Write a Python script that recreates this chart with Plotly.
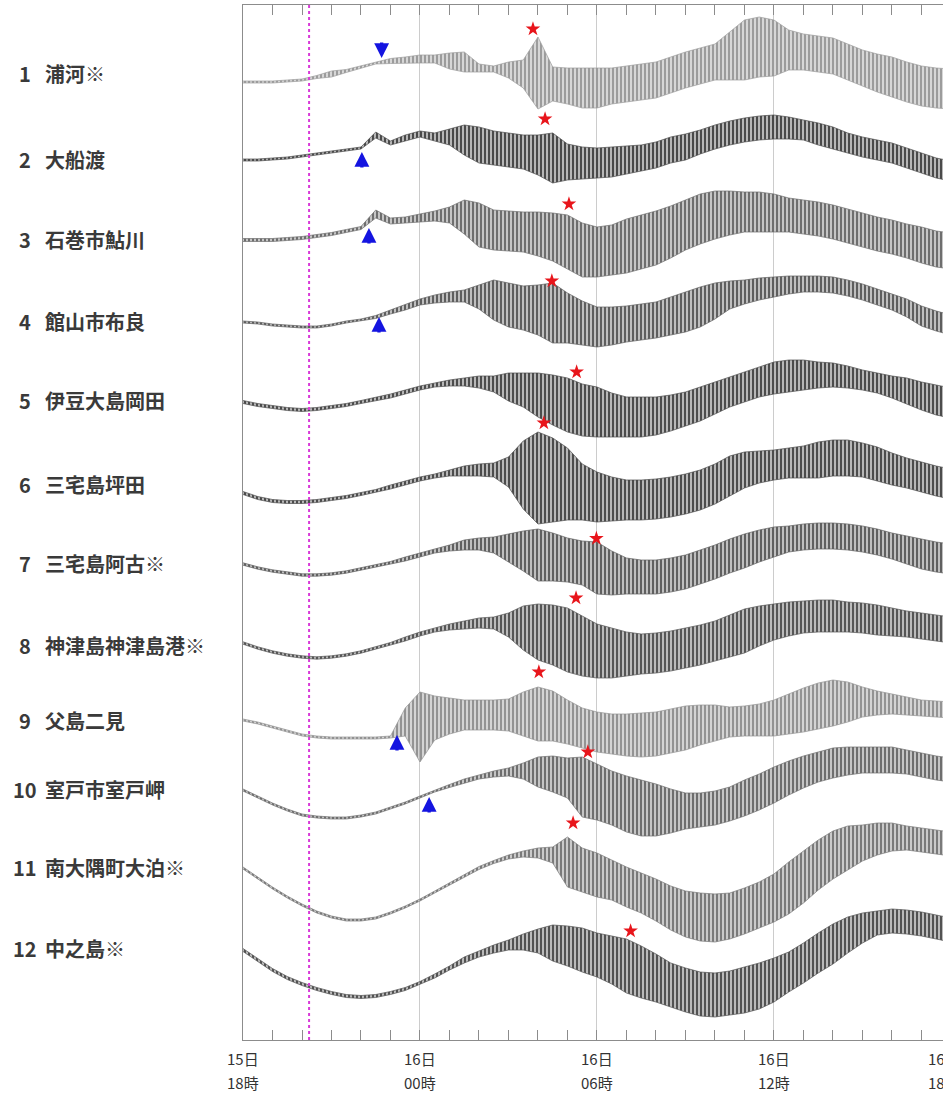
import plotly.graph_objects as go

# ---------------- data ----------------
# time axis: hours after 15日18時
hours = [0, 0.5, 1, 1.5, 2, 2.5, 3, 3.5, 4, 4.5, 5, 5.5, 6, 6.5, 7, 7.5, 8, 8.5, 9, 9.5,
         10, 10.5, 11, 11.5, 12, 12.5, 13, 13.5, 14, 14.5, 15, 15.5, 16, 16.5, 17, 17.5,
         18, 18.5, 19, 19.5, 20, 20.5, 21, 21.5, 22, 22.5, 23, 23.5, 24]

station_numbers = ["1", "2", "3", "4", "5", "6", "7", "8", "9", "10", "11", "12"]
station_names = ["浦河※", "大船渡", "石巻市鮎川", "館山市布良", "伊豆大島岡田", "三宅島坪田",
                 "三宅島阿古※", "神津島神津島港※", "父島二見", "室戸市室戸岬", "南大隅町大泊※", "中之島※"]
station_offset = [967, 881, 801, 719, 640, 556, 477, 395, 320, 251, 173, 92]

# mean sea level (relative to the station offset) and half-range of the oscillation
level_01 = [-9, -9, -9, -8, -7, -4, -1, 2, 6, 10, 12, 13, 14, 14, 12, 11, 5, 4, 3, -1,
            0, -11, -13, -15, -15, -13, -11, -9, -7, -2, 3, 7, 11, 17, 23, 26, 25, 23, 21, 19,
            17, 11, 5, 0, -4, -9, -13, -15, -16]
amp_01 = [1, 1, 1, 1, 1, 1.5, 3, 1.5, 1, 1, 2.5, 3, 4, 4, 8, 10, 4, 3, 8, 14,
          36, 17, 18, 20, 20, 18, 18, 18, 18, 18, 18, 18, 18, 24, 30, 30, 28, 20, 18, 18,
          18, 18, 18, 19, 20, 20, 20, 20, 20]
level_02 = [-1, -1, 0, 1, 3, 5, 7, 9, 11, 24, 16, 21, 25, 22, 22, 19, 14, 11, 9, 7,
            4, 1, -3, -4, -4, -3, -1, 1, 4, 9, 12, 17, 22, 26, 29, 31, 32, 31, 29, 25,
            21, 16, 12, 9, 6, 1, -4, -9, -12]
amp_02 = [1, 1, 1, 1, 1, 1, 1, 1, 1, 3, 2, 3, 3, 4, 8, 15, 18, 17, 17, 17,
          20, 25, 18, 16, 15, 15, 14, 13, 13, 13, 13, 12, 12, 12, 12, 12, 12, 11, 10, 11,
          11, 10, 10, 10, 10, 10, 10, 10, 10]
level_03 = [-1, -1, -1, 0, 1, 3, 5, 8, 11, 25, 18, 19, 21, 23, 24, 22, 14, 9, 8, 7,
            5, 2, -3, -11, -13, -11, -7, -3, 1, 7, 14, 20, 24, 26, 27, 27, 26, 24, 22, 20,
            17, 13, 9, 5, 2, -2, -6, -10, -12]
amp_03 = [1.5, 1.5, 1.5, 1.5, 1.5, 1.5, 1.5, 1.5, 1.5, 4, 3, 3, 4, 5, 8, 17, 22, 20, 20, 20,
          22, 24, 27, 27, 25, 25, 27, 27, 27, 26, 25, 25, 24, 22, 20, 20, 19, 17, 17, 17,
          17, 17, 17, 17, 17, 17, 18, 18, 18]
level_04 = [-1, -2, -4, -5, -6, -6, -4, -1, 1, 4, 9, 14, 19, 22, 24, 25, 24, 21, 16, 13,
            11, 8, 3, -2, -6, -5, -3, -1, 1, 5, 9, 14, 20, 26, 29, 32, 34, 36, 37, 37,
            36, 33, 29, 24, 19, 13, 5, 0, -4]
amp_04 = [1, 1, 1, 1, 1, 1, 1, 1, 1, 1.5, 2, 3, 3, 4, 5, 6, 12, 20, 22, 22,
          25, 30, 25, 22, 20, 19, 18, 18, 18, 19, 20, 20, 18, 14, 12, 11, 10, 9, 8, 8,
          8, 8, 8, 8, 8, 9, 10, 10, 10]
level_05 = [-2, -5, -7, -9, -10, -9, -7, -5, -2, 1, 4, 8, 12, 15, 17, 18, 18, 16, 13, 10,
            5, 0, -5, -10, -12, -15, -17, -17, -16, -13, -9, -4, 2, 8, 13, 18, 22, 24, 25, 25,
            25, 23, 20, 17, 13, 9, 4, 0, -3]
amp_05 = [1.5, 1.5, 1.5, 1.5, 1.5, 1.5, 1.5, 1.5, 1.5, 1.5, 2, 2, 2, 2, 3, 4, 6, 8, 14, 17,
          22, 25, 27, 26, 25, 22, 20, 20, 19, 18, 17, 17, 16, 15, 15, 15, 16, 16, 15, 13,
          12, 11, 10, 10, 11, 13, 14, 15, 15]
level_06 = [-9, -14, -17, -18, -18, -17, -15, -13, -10, -7, -3, 1, 5, 8, 11, 13, 14, 14, 12, 9,
            6, 4, 0, -8, -13, -15, -16, -16, -15, -13, -10, -6, 0, 8, 14, 17, 19, 21, 22, 24,
            26, 26, 24, 20, 15, 11, 7, 3, 0]
amp_06 = [1.5, 1.5, 1.5, 1.5, 1.5, 1.5, 1.5, 1.5, 1.5, 1.5, 2, 2, 2, 2, 3, 5, 6, 7, 15, 34,
          46, 42, 36, 28, 25, 22, 20, 20, 20, 20, 20, 20, 20, 20, 18, 16, 15, 15, 16, 18,
          18, 18, 17, 17, 16, 15, 15, 15, 15]
level_07 = [-1, -5, -8, -10, -12, -12, -11, -9, -6, -3, 0, 4, 8, 12, 15, 18, 19, 18, 15, 12,
            8, 6, 3, 0, -5, -10, -13, -14, -14, -12, -9, -4, 1, 7, 12, 17, 21, 24, 26, 27,
            27, 26, 24, 21, 17, 13, 9, 6, 4]
amp_07 = [1.2, 1.2, 1.2, 1.2, 1.2, 1.2, 1.2, 1.2, 1.2, 1.2, 1.5, 2, 2, 2, 3, 5, 6, 8, 14, 20,
          26, 24, 22, 22, 26, 22, 18, 17, 17, 17, 17, 17, 17, 17, 17, 16, 15, 13, 13, 13,
          13, 13, 13, 13, 13, 14, 15, 15, 15]
level_08 = [2, -3, -7, -10, -12, -13, -12, -10, -7, -3, 1, 6, 11, 15, 18, 20, 22, 22, 20, 17,
            13, 10, 5, -1, -6, -8, -9, -9, -8, -6, -3, 0, 4, 9, 14, 19, 23, 26, 28, 29,
            29, 28, 27, 25, 23, 21, 19, 17, 15]
amp_08 = [1.2, 1.2, 1.2, 1.2, 1.2, 1.2, 1.2, 1.2, 1.2, 1.2, 1.5, 2, 2, 2, 3, 4, 5, 6, 12, 22,
          28, 30, 32, 30, 27, 25, 22, 20, 20, 20, 20, 20, 20, 21, 22, 20, 18, 17, 16, 16,
          16, 15, 15, 15, 14, 13, 13, 13, 13]
level_09 = [0, -3, -7, -11, -15, -17, -18, -18, -18, -18, -17, -2, -7, 2, 4, 5, 5, 5, 5, 6,
            6, 4, -2, -8, -12, -14, -15, -15, -14, -11, -8, -5, -3, -2, -1, 0, 2, 6, 10, 14,
            17, 18, 18, 17, 16, 14, 12, 11, 10]
amp_09 = [1, 1, 1, 1, 1, 1, 1, 1, 1, 1, 1, 14, 35, 22, 18, 15, 15, 15, 16, 22,
          27, 25, 22, 20, 20, 20, 21, 22, 22, 22, 22, 20, 18, 15, 15, 16, 18, 20, 22, 23,
          23, 20, 15, 12, 10, 9, 8, 8, 8]
level_10 = [-1, -8, -15, -21, -26, -28, -29, -29, -27, -24, -19, -14, -8, -2, 3, 8, 12, 15, 17, 18,
            17, 15, 11, 2, -3, -9, -15, -19, -21, -22, -22, -21, -19, -15, -9, -3, 4, 11, 17, 22,
            26, 28, 29, 29, 29, 27, 24, 21, 19]
amp_10 = [1, 1, 1, 1, 1, 1, 1, 1, 1, 1, 1, 1, 1, 1, 1.5, 2, 2, 3, 4, 8,
          15, 18, 20, 30, 28, 27, 28, 28, 26, 22, 18, 17, 17, 17, 18, 18, 18, 17, 16, 15,
          15, 14, 13, 13, 13, 12, 12, 12, 12]
level_11 = [-1, -11, -21, -30, -38, -45, -50, -53, -53, -51, -46, -40, -33, -25, -17, -9, -1, 5, 10, 13,
            14, 12, 5, -3, -8, -13, -20, -26, -33, -41, -47, -50, -51, -49, -44, -38, -31, -21, -10, 2,
            12, 19, 24, 28, 30, 29, 27, 25, 23]
amp_11 = [1, 1, 1, 1, 1, 1, 1, 1, 1, 1, 1, 1, 1, 1, 1, 1, 1.5, 1.5, 2, 3,
          5, 8, 25, 22, 22, 20, 20, 20, 21, 22, 23, 24, 24, 23, 23, 23, 24, 26, 26, 25,
          24, 22, 18, 16, 14, 12, 12, 12, 12]
level_12 = [-2, -12, -22, -30, -36, -41, -45, -48, -49, -48, -45, -41, -35, -28, -20, -12, -6, -1, 3, 6,
            7, 5, 2, -2, -7, -12, -18, -24, -30, -37, -42, -46, -47, -45, -42, -38, -32, -24, -15, -5,
            4, 13, 20, 25, 27, 26, 24, 21, 18]
amp_12 = [1.5, 1.5, 1.5, 1.5, 1.5, 1.5, 1.5, 1.5, 1.5, 1.5, 1.5, 1.5, 1.5, 2, 2, 3, 3, 4, 5, 8,
          12, 18, 20, 22, 22, 24, 27, 26, 24, 22, 22, 22, 22, 22, 23, 23, 22, 20, 20, 20,
          20, 18, 15, 12, 12, 12, 12, 12, 12]

# trace grey levels (0-255)
trace_grey = [156, 74, 110, 94, 76, 76, 96, 86, 147, 110, 122, 82]

# maximum wave (red star): time and level
peak_hours = [9.83, 10.24, 11.05, 10.47, 11.31, 10.2, 11.98, 11.29, 10.03, 11.69, 11.19, 13.14]
peak_levels = [44, 40, 35, 40, 28, 61, 24.5, 47, 48, 37, 44, 17]

# first arrival (blue arrow)
arrival_stations = [1, 2, 3, 4, 9, 10]
arrival_hours = [4.70, 4.03, 4.27, 4.61, 5.22, 6.31]
arrival_levels = [15, 7, 11, 4, -15, -8]
arrival_pointing_down = [True, False, False, False, False, False]

event_hour = 2.24  # pressure wave passage (magenta dotted line)

tick_hours = [0, 6, 12, 18, 24]
tick_day = ["15日", "16日", "16日", "16日", "16日"]
tick_hour_text = ["18時", "00時", "06時", "12時", "18時"]

# ---------------- figure ----------------
levels = [level_01, level_02, level_03, level_04, level_05, level_06,
          level_07, level_08, level_09, level_10, level_11, level_12]
amps = [amp_01, amp_02, amp_03, amp_04, amp_05, amp_06,
        amp_07, amp_08, amp_09, amp_10, amp_11, amp_12]

W, H = 943, 1098
ML, MR, MT, MB = 243, 0, 5, 58
x_max = 23.73
JP = "Noto Sans CJK JP"
AXC = "#8c8c8c"

fig = go.Figure()
for i in range(12):
    off = station_offset[i]
    g = trace_grey[i]
    col = f"rgb({g},{g},{g})"
    bg = f"rgba({g},{g},{g},0.4)"
    upper = [off + l + a for l, a in zip(levels[i], amps[i])]
    lower = [off + l - a for l, a in zip(levels[i], amps[i])]
    fig.add_trace(go.Scatter(x=hours, y=upper, mode="lines", line=dict(color=col, width=0.7),
                             hoverinfo="skip", showlegend=False))
    fig.add_trace(go.Scatter(x=hours, y=lower, mode="lines", line=dict(color=col, width=0.7),
                             fill="tonexty", fillcolor=bg,
                             fillpattern=dict(shape="|", size=4, solidity=0.5, fgcolor=col,
                                              bgcolor=bg, fillmode="replace"),
                             hoverinfo="skip", showlegend=False))

fig.add_trace(go.Scatter(
    x=peak_hours, y=[station_offset[i] + peak_levels[i] for i in range(12)],
    mode="markers", marker=dict(symbol="star", size=11, color="#e8151b", line=dict(width=0)),
    hoverinfo="skip", showlegend=False))

annotations = []
lab_font = dict(family=JP, size=20, color="#3a3a3a", weight="bold")
for i in range(12):
    annotations.append(dict(x=0, xref="paper", y=station_offset[i], yref="y",
                            text=station_numbers[i], showarrow=False, xanchor="center",
                            xshift=25 - ML, font=lab_font))
    annotations.append(dict(x=0, xref="paper", y=station_offset[i], yref="y",
                            text=station_names[i], showarrow=False, xanchor="left",
                            xshift=43 - ML, font=lab_font))

for s, h, lv, down in zip(arrival_stations, arrival_hours, arrival_levels, arrival_pointing_down):
    annotations.append(dict(x=h, y=station_offset[s - 1] + lv, xref="x", yref="y", text="",
                            showarrow=True, arrowhead=2, arrowsize=0.9, arrowwidth=3.3,
                            arrowcolor="#1414e0", ax=0, ay=(-17 if down else 17), standoff=0))

# two-line time labels below the axis (the last one runs off the right edge, as in the original)
tick_font = dict(family=JP, size=15, color="#333333")
for k, (th, d, hh) in enumerate(zip(tick_hours, tick_day, tick_hour_text)):
    nudge = -7 if k == len(tick_hours) - 1 else 0
    annotations.append(dict(x=th / x_max, xref="paper", y=0, yref="paper",
                            xanchor="center", yanchor="middle", xshift=nudge,
                            yshift=-18, text=d, showarrow=False, font=tick_font))
    annotations.append(dict(x=th / x_max, xref="paper", y=0, yref="paper",
                            xanchor="center", yanchor="middle", xshift=nudge,
                            yshift=-42, text=hh, showarrow=False, font=tick_font))

fig.add_shape(type="line", x0=event_hour, x1=event_hour, y0=0, y1=1, xref="x", yref="paper",
              line=dict(color="#d93ad9", width=2, dash="dot"))

fig.update_layout(
    width=W, height=H,
    margin=dict(l=ML, r=MR, t=MT, b=MB),
    paper_bgcolor="white", plot_bgcolor="white",
    showlegend=False,
    annotations=annotations,
    xaxis=dict(range=[0, x_max], tickmode="array", tickvals=tick_hours[:4], showticklabels=False,
               ticks="inside", ticklen=10, tickwidth=1, tickcolor=AXC,
               showgrid=True, gridcolor="#cccccc", gridwidth=1,
               showline=True, linecolor=AXC, linewidth=1, mirror="ticks", zeroline=False,
               minor=dict(tickmode="linear", tick0=0, dtick=1, ticks="inside", ticklen=10,
                          tickcolor=AXC, showgrid=False)),
    yaxis=dict(range=[0, H - MT - MB], showgrid=False, zeroline=False, showticklabels=False,
               ticks="", showline=True, linecolor=AXC, linewidth=1),
)

fig.write_html("out.html", config={"displayModeBar": False},
               post_script="document.body.style.margin='0px';")
